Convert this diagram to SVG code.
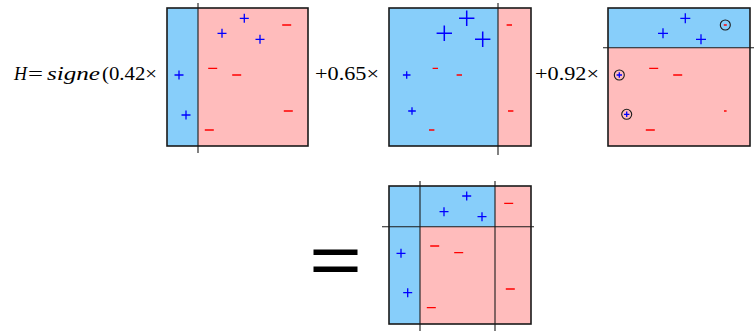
<svg xmlns="http://www.w3.org/2000/svg" width="754" height="331" viewBox="0 0 754 331">
<style>
.txt{font-family:'Liberation Serif','Times New Roman',serif;font-size:19px;fill:#000}
.it{font-style:italic}
.blue{fill:#87cefa}
.pink{fill:#ffbcbc}
.frame{fill:none;stroke:#1a1a1a;stroke-width:1.6}
.split{stroke:#1a1a1a;stroke-width:1.1;fill:none}
.p{stroke:#0000ff;stroke-width:1.3;fill:none}
.m{stroke:#ff0000;stroke-width:1.3;fill:none}
.c{fill:none;stroke:#1a1a1a;stroke-width:1.1}
</style>
<g id="formula">
<text class="txt it" font-family="Liberation Serif" x="14" y="80" textLength="13" lengthAdjust="spacingAndGlyphs">H</text>
<text class="txt" font-family="Liberation Serif" x="28" y="80" textLength="15" lengthAdjust="spacingAndGlyphs">=</text>
<text class="txt it" font-family="Liberation Serif" x="47" y="80" textLength="53" lengthAdjust="spacingAndGlyphs">signe</text>
<text class="txt" font-family="Liberation Serif" x="102" y="80" textLength="55" lengthAdjust="spacingAndGlyphs">(0.42×</text>
<text class="txt" font-family="Liberation Serif" x="315" y="80" textLength="64" lengthAdjust="spacingAndGlyphs">+0.65×</text>
<text class="txt" font-family="Liberation Serif" x="535" y="80" textLength="64" lengthAdjust="spacingAndGlyphs">+0.92×</text>
</g>
<g id="panel1">
<rect class="pink" x="167" y="8" width="141" height="138"/>
<rect class="blue" x="167" y="8" width="31" height="138"/>
<rect class="frame" x="167" y="8" width="141" height="138"/>
<line class="split" x1="198" y1="3" x2="198" y2="153"/>
<path class="p" d="M239.8,18.3h9M244.3,13.8v9 M217.5,33.3h9M222,28.8v9 M255.5,39.3h9M260,34.8v9 M174.5,75h9M179,70.5v9 M181.5,115h9M186,110.5v9"/>
<path class="m" d="M282.2,25h9 M208.2,68.3h9 M232.2,75h9 M283.8,111h9 M204.8,130h9"/>
</g>
<g id="panel2">
<rect class="pink" x="389" y="8" width="142" height="138"/>
<rect class="blue" x="389" y="8" width="109" height="138"/>
<rect class="frame" x="389" y="8" width="142" height="138"/>
<line class="split" x1="498" y1="3" x2="498" y2="155"/>
<path class="p" style="stroke-width:1.5" d="M459,18.3h15.4M466.7,10.6v15.4 M436.6,33.3h15.4M444.3,25.6v15.4 M475,39.3h15.4M482.7,31.6v15.4"/>
<path class="p" d="M402.9,75h7.6M406.7,71.2v7.6 M408.2,111h7.6M412,107.2v7.6"/>
<path class="m" d="M506.6,25h5.4 M432.6,68.3h5.4 M456.6,75h5.4 M508,111h5.4 M429,130h5.4"/>
</g>
<g id="panel3">
<rect class="pink" x="608" y="8" width="142" height="138"/>
<rect class="blue" x="608" y="8" width="142" height="39.7"/>
<rect class="frame" x="608" y="8" width="142" height="138"/>
<line class="split" x1="603" y1="47.7" x2="754" y2="47.7"/>
<path class="p" d="M680.3,18.3h10M685.3,13.3v10 M658,33.3h10M663,28.3v10 M696,39.3h10M701,34.3v10"/>
<path class="p" d="M616.6,75h5.4M619.3,72.3v5.4 M624,114.3h5.4M626.7,111.6v5.4"/>
<circle class="c" cx="619.3" cy="75" r="5"/>
<circle class="c" cx="626.7" cy="114.3" r="5"/>
<circle class="c" cx="725.3" cy="25" r="5"/>
<path class="m" d="M723.8,25h3 M649.2,68.3h9 M673.2,75h9 M724,111h2.6 M645.8,130h9"/>
</g>
<g id="equals">
<rect x="313.5" y="249.5" width="44" height="5.5" fill="#000"/>
<rect x="313.5" y="266.5" width="44" height="5.5" fill="#000"/>
</g>
<g id="result">
<rect class="pink" x="389" y="186" width="142" height="138"/>
<rect class="blue" x="389" y="186" width="31" height="138"/>
<rect class="blue" x="420" y="186" width="75" height="40.7"/>
<rect class="frame" x="389" y="186" width="142" height="138"/>
<line class="split" x1="420" y1="181" x2="420" y2="331"/>
<line class="split" x1="495" y1="181" x2="495" y2="331"/>
<line class="split" x1="382" y1="226.7" x2="534" y2="226.7"/>
<path class="p" d="M462.2,196h9M466.7,191.5v9 M439.5,211.7h9M444,207.2v9 M477.5,216.7h9M482,212.2v9 M396.5,253.3h9M401,248.8v9 M403.2,292.7h9M407.7,288.2v9"/>
<path class="m" d="M504.2,203.3h9 M430.2,246h9 M454.2,252.7h9 M505.8,289h9 M426.8,307.7h9"/>
</g>
</svg>
